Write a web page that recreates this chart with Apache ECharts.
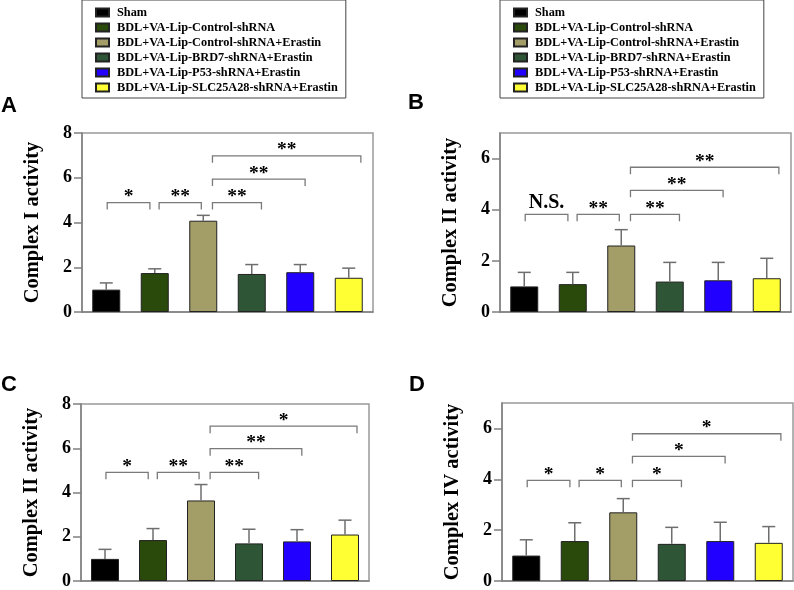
<!DOCTYPE html>
<html>
<head>
<meta charset="utf-8">
<script src="https://cdn.jsdelivr.net/npm/echarts@6/dist/echarts.min.js"></script>
<style>
html,body{margin:0;padding:0;background:#fff;}
#chart{width:794px;height:590px;}
</style>
</head>
<body>
<div id="chart"></div>
<script>
// ---------- data ----------
const categories = [
  'Sham',
  'BDL+VA-Lip-Control-shRNA',
  'BDL+VA-Lip-Control-shRNA+Erastin',
  'BDL+VA-Lip-BRD7-shRNA+Erastin',
  'BDL+VA-Lip-P53-shRNA+Erastin',
  'BDL+VA-Lip-SLC25A28-shRNA+Erastin'
];
const panelLetters = ['A', 'B', 'C', 'D'];
const yNames = ['Complex I activity', 'Complex II activity', 'Complex II activity', 'Complex IV activity'];
const yMax = [8, 7, 8, 7];
const yTicks = [[0, 2, 4, 6, 8], [0, 2, 4, 6], [0, 2, 4, 6, 8], [0, 2, 4, 6]];

const meanA = [1.00, 1.74, 4.08, 1.70, 1.78, 1.53];
const errUpperA = [1.30, 1.93, 4.32, 2.12, 2.12, 1.96];
const meanB = [1.00, 1.09, 2.60, 1.19, 1.24, 1.32];
const errUpperB = [1.55, 1.55, 3.22, 1.94, 1.94, 2.10];
const meanC = [1.00, 1.85, 3.64, 1.70, 1.79, 2.10];
const errUpperC = [1.43, 2.37, 4.36, 2.34, 2.32, 2.75];
const meanD = [1.00, 1.57, 2.70, 1.46, 1.57, 1.50];
const errUpperD = [1.62, 2.29, 3.24, 2.11, 2.31, 2.14];

// significance brackets: [x start, x end] in category units
const bracketX = [[0.02, 0.90], [1.09, 1.96], [2.19, 3.20], [2.19, 4.10], [2.19, 5.25]];
const bracketYA = [4.89, 4.89, 4.89, 5.94, 6.98];
const bracketYB = [3.82, 3.82, 3.82, 4.76, 5.66];
const bracketYC = [4.91, 4.91, 4.91, 5.98, 7.00];
const bracketYD = [3.96, 3.96, 3.96, 4.90, 5.79];
const sigA = ['*', '**', '**', '**', '**'];
const sigB = ['N.S.', '**', '**', '**', '**'];
const sigC = ['*', '**', '**', '**', '*'];
const sigD = ['*', '*', '*', '*', '*'];

const means = [meanA, meanB, meanC, meanD];
const errUpper = [errUpperA, errUpperB, errUpperC, errUpperD];
const bracketY = [bracketYA, bracketYB, bracketYC, bracketYD];
const sigs = [sigA, sigB, sigC, sigD];

// ---------- styles ----------
const colors = ['#000000', '#2a4a0c', '#a39d67', '#2e5535', '#2200ff', '#ffff33'];
const serif = '"Liberation Serif", "Times New Roman", serif';
const axisGray = '#808080';

const grids = [
  { left: 82, top: 133, width: 291, height: 179 },
  { left: 500, top: 133, width: 291, height: 179 },
  { left: 81, top: 404, width: 288, height: 178 },
  { left: 502, top: 403, width: 291, height: 179 }
];
const letterPos = [[1, 95], [408, 92], [1, 374], [409, 374]];

const option = {
  animation: false,
  backgroundColor: '#fff',
  grid: grids.map(g => Object.assign({ show: true, borderColor: '#999', borderWidth: 1.5, backgroundColor: 'transparent' }, g)),
  legend: [
    { left: 82, top: 0 }, { left: 500, top: 0 }
  ].map(p => ({
    left: p.left, top: p.top, orient: 'vertical',
    data: categories,
    icon: 'rect', itemWidth: 13, itemHeight: 8, itemGap: 2,
    padding: [6, 8, 4, 13],
    borderColor: '#444', borderWidth: 1,
    selectedMode: false,
    textStyle: { fontFamily: serif, fontWeight: 'bold', fontSize: 12.3, color: '#000', lineHeight: 13, padding: [0, 0, 0, 3] }
  })),
  graphic: panelLetters.map((t, i) => ({
    type: 'text', left: letterPos[i][0], top: letterPos[i][1],
    style: { text: t, font: 'bold 22px "Liberation Sans", Arial, sans-serif', fill: '#000' }
  })),
  xAxis: [],
  yAxis: [],
  series: []
};

for (let g = 0; g < 4; g++) {
  option.xAxis.push({
    type: 'category', gridIndex: g, data: categories,
    axisLine: { onZero: false, lineStyle: { color: axisGray, width: 1.5 } },
    axisTick: { alignWithLabel: true, length: 7, lineStyle: { color: axisGray, width: 1.5 } },
    axisLabel: { show: false }, splitLine: { show: false }
  });
  option.xAxis.push({ type: 'value', gridIndex: g, min: -0.5, max: 5.5, show: false, axisLine: { onZero: false } });
  option.yAxis.push({
    type: 'value', gridIndex: g, min: 0, max: yMax[g], interval: 2,
    name: yNames[g], nameLocation: 'middle', nameGap: 39, nameRotate: 90,
    nameTextStyle: { fontFamily: serif, fontWeight: 'bold', fontSize: 20.5, color: '#000' },
    axisLine: { show: true, onZero: false, lineStyle: { color: axisGray, width: 1.5 } },
    axisTick: { show: true, length: 8, customValues: yTicks[g], lineStyle: { color: axisGray, width: 1.5 } },
    axisLabel: { margin: 10, customValues: yTicks[g], fontFamily: serif, fontWeight: 'bold', fontSize: 18, color: '#000' },
    splitLine: { show: false }
  });
  for (let i = 0; i < 6; i++) {
    option.series.push({
      type: 'bar', name: categories[i], xAxisIndex: 2 * g, yAxisIndex: g,
      data: means[g].map((v, j) => (j === i ? v : '-')),
      barWidth: 28, barGap: '-100%',
      itemStyle: { color: colors[i], borderColor: '#222', borderWidth: 1 },
      z: 2
    });
  }
  // error bars (upper only), positioned on the numeric twin of the category axis
  option.series.push({
    type: 'custom', xAxisIndex: 2 * g + 1, yAxisIndex: g, z: 3,
    dimensions: ['idx', 'mean', 'upper'],
    encode: { x: 0, y: [1, 2] },
    data: means[g].map((m, j) => [j, m, errUpper[g][j]]),
    renderItem: function (params, api) {
      const p0 = api.coord([api.value(0), api.value(1)]);
      const p1 = api.coord([api.value(0), api.value(2)]);
      return {
        type: 'group', children: [
          { type: 'line', shape: { x1: p0[0], y1: p0[1], x2: p1[0], y2: p1[1] }, style: { stroke: '#6e6e6e', lineWidth: 1.5 } },
          { type: 'line', shape: { x1: p1[0] - 6.5, y1: p1[1], x2: p1[0] + 6.5, y2: p1[1] }, style: { stroke: '#6e6e6e', lineWidth: 1.5 } }
        ]
      };
    }
  });
  const sigLabels = sigs[g];
  option.series.push({
    type: 'custom', xAxisIndex: 2 * g + 1, yAxisIndex: g, z: 4,
    dimensions: ['x1', 'x2', 'y'],
    encode: { x: [0, 1], y: 2 },
    data: bracketX.map((bx, k) => [bx[0], bx[1], bracketY[g][k]]),
    renderItem: function (params, api) {
      const a = api.coord([api.value(0), api.value(2)]);
      const b = api.coord([api.value(1), api.value(2)]);
      const lab = sigLabels[params.dataIndex];
      const isNS = lab === 'N.S.';
      return {
        type: 'group', children: [
          { type: 'polyline', shape: { points: [[a[0], a[1] + 7], [a[0], a[1]], [b[0], b[1]], [b[0], b[1] + 7]] },
            style: { stroke: '#7a7a7a', lineWidth: 1.3, fill: null } },
          { type: 'text', x: (a[0] + b[0]) / 2, y: isNS ? a[1] - 1 : a[1] + 4.5,
            style: { text: lab, textAlign: 'center', textVerticalAlign: 'bottom',
              font: 'bold ' + (isNS ? 20 : 19.5) + 'px ' + serif, fill: '#000' } }
        ]
      };
    }
  });
}

const chart = echarts.init(document.getElementById('chart'), null, { renderer: 'canvas' });
chart.setOption(option);
</script>
</body>
</html>
